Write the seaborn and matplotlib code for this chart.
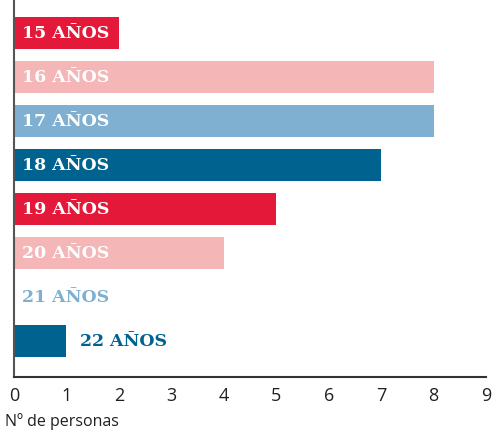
import seaborn as sns
import matplotlib.pyplot as plt
import pandas as pd

ages = ["15 AÑOS", "16 AÑOS", "17 AÑOS", "18 AÑOS", "19 AÑOS", "20 AÑOS", "21 AÑOS", "22 AÑOS"]
personas = [2, 8, 8, 7, 5, 4, 0, 1]
colors = ["#e4193a", "#f5b6b7", "#7fb0d1", "#00628f", "#e4193a", "#f5b6b7", "#7fb0d1", "#00628f"]

sns.set_style("white")
df = pd.DataFrame({"edad": ages, "n": personas})

fig = plt.figure(figsize=(4.92, 4.34), dpi=100)
ax = fig.add_axes([0.0285, 0.131, 0.9594, 0.869])
sns.barplot(data=df, x="n", y="edad", hue="edad", palette=colors, legend=False,
            orient="h", width=0.74, saturation=1, linewidth=0, ax=ax)

ax.set_xlim(0, 9)
ax.set_ylim(7.82, -0.75)
ax.set_xticks(range(10))
ax.set_yticks([])
ax.set_ylabel("")
ax.set_xlabel("Nº de personas", fontsize=11.5, family="Open Sans", color="#231f20")
ax.xaxis.set_label_coords(-0.02, -0.095, transform=ax.transAxes)
ax.xaxis.label.set_horizontalalignment("left")
ax.tick_params(axis="x", direction="in", length=6, width=1.2, color="#333333",
               labelsize=13, pad=7, labelcolor="#231f20")
for lbl in ax.get_xticklabels():
    lbl.set_family("Open Sans")
for s in ["top", "right"]:
    ax.spines[s].set_visible(False)
ax.spines["left"].set_color("#555555")
ax.spines["bottom"].set_color("#333333")
ax.spines["left"].set_linewidth(1.5)
ax.spines["bottom"].set_linewidth(1.5)

for i, (lab, v, c) in enumerate(zip(ages, personas, colors)):
    if v >= 2:
        ax.text(0.15, i, lab, color="white", va="center", ha="left",
                fontsize=12.5, fontweight="bold", family="DejaVu Serif")
    else:
        ax.text(v + (0.25 if v > 0 else 0.15), i, lab, color=c, va="center", ha="left",
                fontsize=12.5, fontweight="bold", family="DejaVu Serif")

fig.savefig("out.png", dpi=100)
